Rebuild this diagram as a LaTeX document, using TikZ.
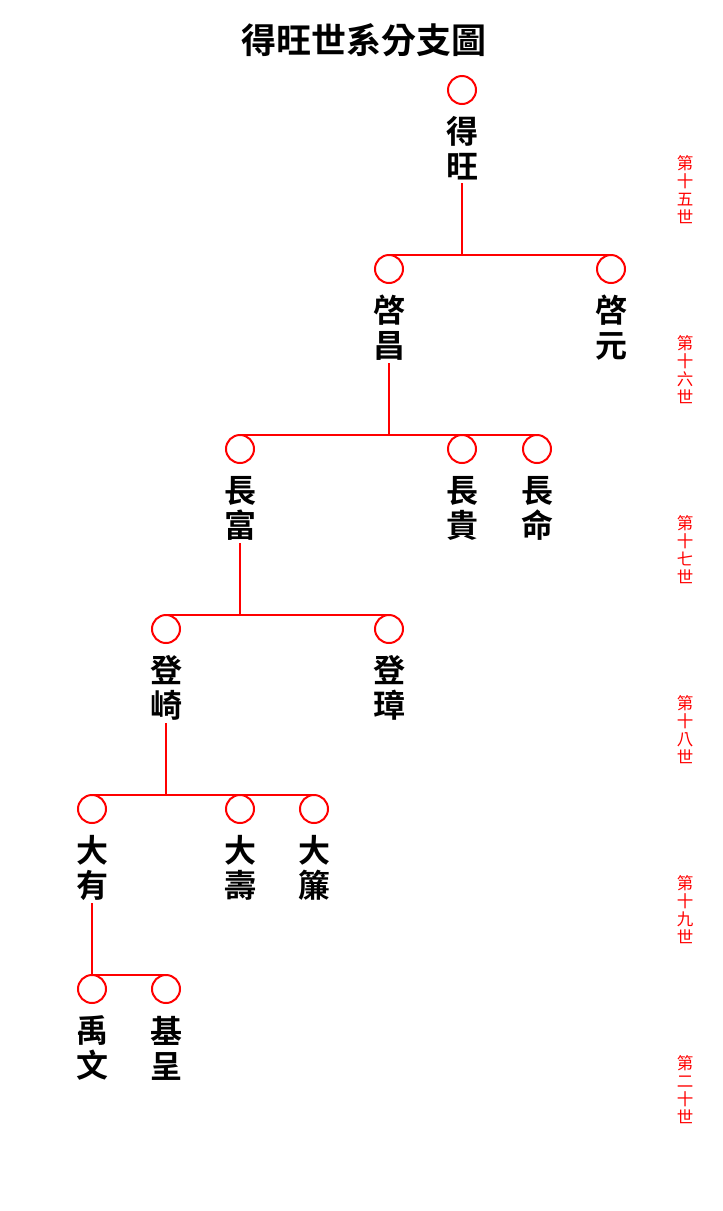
\documentclass[tikz,border=0pt]{standalone}
\usepackage{fontspec}
\newfontfamily\cjk{Noto Sans CJK TC}[BoldFont={Noto Sans CJK TC Bold}]
\definecolor{linered}{RGB}{255,0,0}
\begin{document}
\begin{tikzpicture}[x=1pt,y=1pt,
  person/.style={circle,draw=linered,line width=2pt,minimum size=28pt,inner sep=0pt,outer sep=0pt},
  pname/.style={inner sep=0pt,outer sep=0pt,minimum height=70pt,align=center,
    font=\cjk\bfseries\fontsize{32}{35}\selectfont},
  gen/.style={inner sep=0pt,align=center,text=linered,font=\cjk\fontsize{16.5}{18}\selectfont},
  link/.style={draw=linered,line width=2pt}]
\useasboundingbox (0,0) rectangle (723,-1211);
\node (title) at (364,-40) {\cjk\bfseries\fontsize{35}{38}\selectfont 得旺世系分支圖};
% generation labels
\node[gen] (g15) at (685,-190) {第\\十\\五\\世};
\node[gen] (g16) at (685,-370) {第\\十\\六\\世};
\node[gen] (g17) at (685,-550) {第\\十\\七\\世};
\node[gen] (g18) at (685,-730) {第\\十\\八\\世};
\node[gen] (g19) at (685,-910) {第\\十\\九\\世};
\node[gen] (g20) at (685,-1090) {第\\二\\十\\世};
% gen 15
\node[person] (c1) at (462,-90) {};
\node[pname] (t1) at (462,-148) {得\\旺};
% gen 16
\node[person] (c2) at (389,-269) {};
\node[pname] (t2) at (389,-328) {啓\\昌};
\node[person] (c3) at (611,-269) {};
\node[pname] (t3) at (611,-328) {啓\\元};
% gen 17
\node[person] (c4) at (240,-449) {};
\node[pname] (t4) at (240,-508) {長\\富};
\node[person] (c5) at (462,-449) {};
\node[pname] (t5) at (462,-508) {長\\貴};
\node[person] (c6) at (537,-449) {};
\node[pname] (t6) at (537,-508) {長\\命};
% gen 18
\node[person] (c7) at (166,-629) {};
\node[pname] (t7) at (166,-688) {登\\崎};
\node[person] (c8) at (389,-629) {};
\node[pname] (t8) at (389,-688) {登\\璋};
% gen 19
\node[person] (c9) at (92,-809) {};
\node[pname] (t9) at (92,-868) {大\\有};
\node[person] (c10) at (240,-809) {};
\node[pname] (t10) at (240,-868) {大\\壽};
\node[person] (c11) at (314,-809) {};
\node[pname] (t11) at (314,-868) {大\\簾};
% gen 20
\node[person] (c12) at (92,-989) {};
\node[pname] (t12) at (92,-1048) {禹\\文};
\node[person] (c13) at (166,-989) {};
\node[pname] (t13) at (166,-1048) {基\\呈};
% connectors
\draw[link] (t1.south) -- (t1.south |- c2.north);
\draw[link] (c2.north) -- (c3.north);
\draw[link] (t2.south) -- (t2.south |- c4.north);
\draw[link] (c4.north) -- (c6.north);
\draw[link] (t4.south) -- (t4.south |- c7.north);
\draw[link] (c7.north) -- (c8.north);
\draw[link] (t7.south) -- (t7.south |- c9.north);
\draw[link] (c9.north) -- (c11.north);
\draw[link] (t9.south) -- (t9.south |- c12.north);
\draw[link] (c12.north) -- (c13.north);
\end{tikzpicture}
\end{document}
